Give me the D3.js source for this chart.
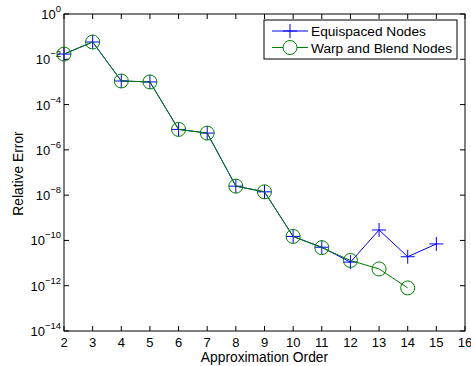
<!DOCTYPE html>
<html>
<head>
<meta charset="utf-8">
<script src="https://cdn.jsdelivr.net/npm/d3@7"></script>
<style>
  body { margin: 0; background: #fff; }
  svg { font-family: 'Liberation Sans', Arial, Helvetica, sans-serif; }
</style>
</head>
<body>
<svg id="plot" width="471" height="366"></svg>
<script>
const orders = [2, 3, 4, 5, 6, 7, 8, 9, 10, 11, 12, 13, 14, 15];
const equispaced = [1.7e-2, 5.8e-2, 1.1e-3, 1.0e-3, 8e-6, 5.5e-6, 2.5e-8, 1.4e-8, 1.5e-10, 5e-11, 1.1e-11, 2.9e-10, 1.9e-11, 7e-11];
const warpBlendOrders = [2, 3, 4, 5, 6, 7, 8, 9, 10, 11, 12, 13, 14];
const warpBlend = [1.7e-2, 5.8e-2, 1.1e-3, 1.0e-3, 8e-6, 5.5e-6, 2.5e-8, 1.4e-8, 1.5e-10, 4.8e-11, 1.3e-11, 5.5e-12, 8e-13];
const xTicks = [2, 3, 4, 5, 6, 7, 8, 9, 10, 11, 12, 13, 14, 15, 16];
const yExponents = [0, -2, -4, -6, -8, -10, -12, -14];
const seriesNames = ['Equispaced Nodes', 'Warp and Blend Nodes'];

const margin = { top: 14, right: 6, bottom: 35, left: 64 };
const width = 471 - margin.left - margin.right;
const height = 366 - margin.top - margin.bottom;

const svg = d3.select('#plot');
const g = svg.append('g').attr('transform', `translate(${margin.left},${margin.top})`);

const x = d3.scaleLinear().domain([2, 16]).range([0, width]);
const y = d3.scaleLog().domain([1e-14, 1]).range([height, 0]);

const tickLen = 5;

// box
g.append('rect')
  .attr('width', width).attr('height', height)
  .attr('fill', 'none').attr('stroke', '#000').attr('stroke-width', 1);

// x ticks (bottom and top, inward)
xTicks.forEach((t) => {
  g.append('line').attr('x1', x(t)).attr('x2', x(t)).attr('y1', height).attr('y2', height - tickLen).attr('stroke', '#000');
  g.append('line').attr('x1', x(t)).attr('x2', x(t)).attr('y1', 0).attr('y2', tickLen).attr('stroke', '#000');
  g.append('text')
    .attr('x', x(t)).attr('y', height + 16)
    .attr('text-anchor', 'middle')
    .attr('font-size', 13)
    .text(t);
});

// y ticks (left and right, inward)
yExponents.forEach((e) => {
  const yy = y(Math.pow(10, e));
  g.append('line').attr('x1', 0).attr('x2', tickLen).attr('y1', yy).attr('y2', yy).attr('stroke', '#000');
  g.append('line').attr('x1', width).attr('x2', width - tickLen).attr('y1', yy).attr('y2', yy).attr('stroke', '#000');
  const t = g.append('text')
    .attr('x', -3).attr('y', yy + 5)
    .attr('text-anchor', 'end')
    .attr('font-size', 13);
  t.append('tspan').text('10');
  t.append('tspan').attr('dy', -7).attr('font-size', 9.5).text(e === 0 ? '0' : '\u2212' + (-e));
});

// axis labels
g.append('text')
  .attr('x', width / 2).attr('y', height + 31)
  .attr('text-anchor', 'middle')
  .attr('font-size', 13.8)
  .text('Approximation Order');

g.append('text')
  .attr('transform', `translate(${-41},${height / 2 + 1}) rotate(-90)`)
  .attr('text-anchor', 'middle')
  .attr('font-size', 13.8)
  .text('Relative Error');

const line = d3.line()
  .x((d) => x(d[0]))
  .y((d) => y(d[1]));

const eqData = orders.map((o, i) => [o, equispaced[i]]);
const wbData = warpBlendOrders.map((o, i) => [o, warpBlend[i]]);

const plusSize = 7;
const circleR = 7;

function drawPlus(sel, cx, cy, color) {
  sel.append('line').attr('x1', cx - plusSize).attr('x2', cx + plusSize).attr('y1', cy).attr('y2', cy).attr('stroke', color);
  sel.append('line').attr('x1', cx).attr('x2', cx).attr('y1', cy - plusSize).attr('y2', cy + plusSize).attr('stroke', color);
}

// equispaced
g.append('path')
  .datum(eqData)
  .attr('fill', 'none')
  .attr('stroke', '#0000ff')
  .attr('stroke-width', 1)
  .attr('d', line);
const eqMarks = g.append('g');
eqData.forEach((d) => drawPlus(eqMarks, x(d[0]), y(d[1]), '#0000ff'));

// warp and blend
g.append('path')
  .datum(wbData)
  .attr('fill', 'none')
  .attr('stroke', '#008000')
  .attr('stroke-width', 1)
  .attr('d', line);
g.append('g').selectAll('circle')
  .data(wbData)
  .join('circle')
  .attr('cx', (d) => x(d[0]))
  .attr('cy', (d) => y(d[1]))
  .attr('r', circleR)
  .attr('fill', 'none')
  .attr('stroke', '#008000');

// legend
const legend = svg.append('g').attr('transform', 'translate(264,20)');
legend.append('rect')
  .attr('width', 193).attr('height', 39)
  .attr('fill', '#fff').attr('stroke', '#000');
const colors = ['#0000ff', '#008000'];
seriesNames.forEach((name, i) => {
  const ly = 11 + i * 16.5;
  legend.append('line').attr('x1', 8).attr('x2', 44).attr('y1', ly).attr('y2', ly).attr('stroke', colors[i]);
  if (i === 0) {
    drawPlus(legend, 26, ly, colors[i]);
  } else {
    legend.append('circle').attr('cx', 26).attr('cy', ly).attr('r', circleR).attr('fill', '#fff').attr('stroke', colors[i]);
  }
  legend.append('text')
    .attr('x', 47).attr('y', ly + 5)
    .attr('font-size', 13.7)
    .text(name);
});
</script>
</body>
</html>
